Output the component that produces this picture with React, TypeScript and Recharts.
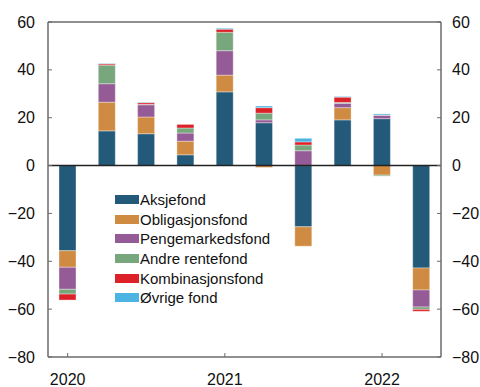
import { BarChart, Bar, XAxis, YAxis, ReferenceLine } from 'recharts';

// Quarterly net subscriptions, bn NOK
const quarters = ['2020K1', '2020K2', '2020K3', '2020K4', '2021K1', '2021K2', '2021K3', '2021K4', '2022K1', '2022K2'];
const aksjefond = [-35.6, 14.5, 13.3, 4.5, 30.8, 17.9, -25.6, 19.1, 19.6, -42.8];
const obligasjonsfond = [-6.9, 12.0, 7.0, 5.7, 7.0, -0.8, -8.1, 5.1, -4.0, -9.2];
const pengemarkedsfond = [-9.2, 7.7, 5.1, 3.4, 10.2, 1.2, 6.2, 1.8, 1.4, -7.1];
const andreRentefond = [-2.0, 7.8, 0.2, 2.1, 7.7, 2.8, 2.4, 0.4, -0.4, -1.0];
const kombinasjonsfond = [-2.5, 0.5, 0.7, 1.5, 1.3, 2.3, 1.3, 2.2, 0.1, -0.8];
const ovrigeFond = [0, 0.2, 0.2, 0, 0.4, 0.7, 1.5, 0.3, 0.5, 0];
const yTicks = [-80, -60, -40, -20, 0, 20, 40, 60];

const series = [
  { key: 'aksje', name: 'Aksjefond', color: '#235a79' },
  { key: 'oblig', name: 'Obligasjonsfond', color: '#cf8b42' },
  { key: 'penge', name: 'Pengemarkedsfond', color: '#955b96' },
  { key: 'andre', name: 'Andre rentefond', color: '#78a67d' },
  { key: 'kombi', name: 'Kombinasjonsfond', color: '#dd2129' },
  { key: 'ovrige', name: 'Øvrige fond', color: '#4cb4e2' },
];

const data = quarters.map((q, i) => ({
  q,
  aksje: aksjefond[i],
  oblig: obligasjonsfond[i],
  penge: pengemarkedsfond[i],
  andre: andreRentefond[i],
  kombi: kombinasjonsfond[i],
  ovrige: ovrigeFond[i],
}));

const FONT = '"Liberation Sans", Arial, sans-serif';
const AXIS = '#6b6b6b';
const fmt = (v: number) => (v < 0 ? '\u2212' + Math.abs(v) : String(v));

const LeftTick = (props: any) => {
  const { y, payload } = props;
  return (
    <g>
      <line x1={48} x2={52} y1={y} y2={y} stroke={AXIS} />
      <text x={35} y={y + 5.5} textAnchor="end" fontSize={16} fontFamily={FONT} fill="#111">
        {fmt(payload.value)}
      </text>
    </g>
  );
};

const RightTick = (props: any) => {
  const { y, payload } = props;
  return (
    <g>
      <line x1={437} x2={441} y1={y} y2={y} stroke={AXIS} />
      <text x={452} y={y + 5.5} textAnchor="start" fontSize={16} fontFamily={FONT} fill="#111">
        {fmt(payload.value)}
      </text>
    </g>
  );
};

const BottomTick = (props: any) => {
  const { x, payload, index } = props;
  if (index % 4 !== 0) return <g />;
  return (
    <g>
      <line x1={x} x2={x} y1={357} y2={353} stroke={AXIS} />
      <text x={x} y={385} textAnchor="middle" fontSize={16} fontFamily={FONT} fill="#111">
        {payload.value.slice(0, 4)}
      </text>
    </g>
  );
};

const LegendBox = () => (
  <div style={{ position: 'absolute', left: 115, top: 190, fontFamily: FONT, fontSize: 15, color: '#111' }}>
    {series.map((s) => (
      <div key={s.key} style={{ display: 'flex', alignItems: 'center', height: 19.6, whiteSpace: 'nowrap' }}>
        <span style={{ display: 'inline-block', width: 24, height: 9, background: s.color, marginRight: 1 }} />
        <span>{s.name}</span>
      </div>
    ))}
  </div>
);

export default function App() {
  return (
    <div style={{ position: 'absolute', left: 0, top: 0, width: 480, height: 387, background: '#fff' }}>
      <BarChart
        width={480}
        height={387}
        data={data}
        stackOffset="sign"
        barSize={17}
        margin={{ top: 22, right: 0, bottom: 0, left: 0 }}
      >
        <XAxis
          dataKey="q"
          height={30}
          axisLine={{ stroke: AXIS, strokeWidth: 1.5 }}
          tickLine={false}
          interval={0}
          tick={<BottomTick />}
        />
        <YAxis
          yAxisId="left"
          width={48}
          domain={[-80, 60]}
          ticks={yTicks}
          axisLine={{ stroke: AXIS, strokeWidth: 1.5 }}
          tickLine={false}
          tick={<LeftTick />}
        />
        <YAxis
          yAxisId="right"
          orientation="right"
          width={39}
          domain={[-80, 60]}
          ticks={yTicks}
          allowDataOverflow
          axisLine={{ stroke: AXIS, strokeWidth: 1.5 }}
          tickLine={false}
          tick={<RightTick />}
        />
        {series.map((s) => (
          <Bar
            key={s.key}
            yAxisId="left"
            dataKey={s.key}
            name={s.name}
            stackId="a"
            fill={s.color}
            stroke="rgba(255,255,255,0.45)"
            strokeWidth={0.8}
            isAnimationActive={false}
          />
        ))}
        <ReferenceLine yAxisId="right" y={-80} stroke="none" ifOverflow="extendDomain" />
        <ReferenceLine yAxisId="left" y={60} stroke={AXIS} strokeWidth={1.5} />
        <ReferenceLine yAxisId="left" y={0} stroke="#222" strokeWidth={1.5} />
      </BarChart>
      <LegendBox />
    </div>
  );
}
